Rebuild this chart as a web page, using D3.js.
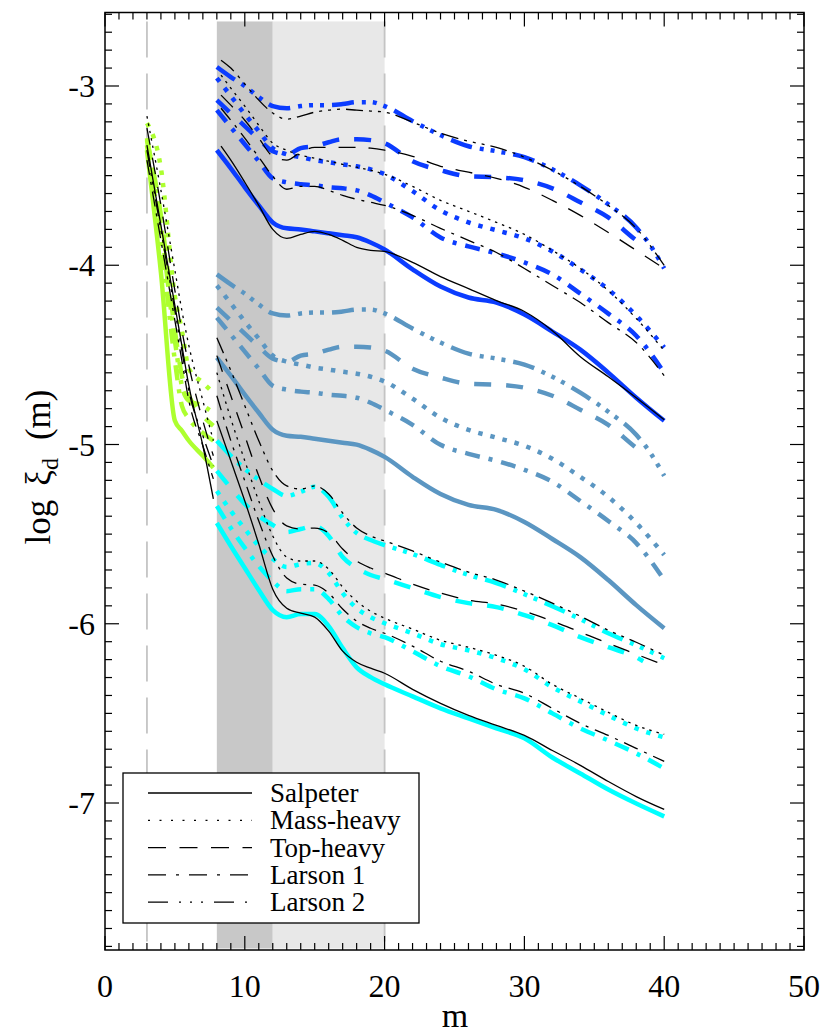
<!DOCTYPE html>
<html><head><meta charset="utf-8">
<script src="https://cdn.jsdelivr.net/npm/d3@7"></script>
<style>
body{margin:0;background:#fff}
svg{display:block}
text{font-family:"Liberation Serif","Times New Roman",serif;fill:#000}
</style>
</head><body>
<svg id="chart" width="827" height="1036"></svg>
<script>
// ---------------- data ----------------
const GRID    = [8,9,10,11,12,13,14,15,16,17,18,19,20,22,24,26,28,30,32,34,36,38,40];
const GRID_L2 = [8,9,10,11,12,13,14,15,16,17,18,19,20,22,24,26,28,30,32,34,36,38,39,40];
const GRID_TH = [8,9,10,11,12,13,14,15,16,17,18,19,20,22,24,26,28,30,32,34,36,38,38.5];
const GRID_BK = [8.3,9,10,11,12,13,14,15,16,17,18,19,20,22,24,26,28,30,32,34,36,38,40];
const GREEN_M = [3,4,5,5.5,6,7,7.75];

// blue group
const blueSalpeter = [-3.358,-3.459,-3.565,-3.666,-3.761,-3.794,-3.800,-3.811,-3.822,-3.833,-3.844,-3.873,-3.912,-4.023,-4.119,-4.180,-4.208,-4.275,-4.370,-4.471,-4.599,-4.739,-4.868];
const blueMass     = [-2.956,-3.056,-3.157,-3.252,-3.347,-3.381,-3.397,-3.414,-3.425,-3.437,-3.448,-3.465,-3.492,-3.587,-3.694,-3.761,-3.805,-3.850,-3.923,-4.023,-4.135,-4.281,-4.459];
const blueTop      = [-3.079,-3.152,-3.224,-3.297,-3.364,-3.381,-3.347,-3.336,-3.314,-3.297,-3.297,-3.302,-3.319,-3.420,-3.470,-3.504,-3.509,-3.526,-3.571,-3.649,-3.733,-3.861,-3.889];
const blueLarson1  = [-3.135,-3.230,-3.325,-3.420,-3.515,-3.537,-3.548,-3.554,-3.565,-3.571,-3.582,-3.610,-3.649,-3.733,-3.845,-3.895,-3.934,-3.984,-4.051,-4.158,-4.270,-4.393,-4.599];
const blueLarson2  = [-2.894,-2.950,-3.001,-3.062,-3.112,-3.124,-3.112,-3.107,-3.107,-3.101,-3.090,-3.090,-3.112,-3.196,-3.274,-3.336,-3.364,-3.397,-3.465,-3.554,-3.660,-3.789,-3.889,-4.018];
// black companions of the blue group
const bkBlueSalpeter = [-3.336,-3.414,-3.537,-3.666,-3.800,-3.850,-3.828,-3.811,-3.828,-3.861,-3.900,-3.917,-3.923,-3.984,-4.063,-4.130,-4.197,-4.258,-4.365,-4.510,-4.622,-4.739,-4.862];
const bkBlueMass     = [-2.939,-3.012,-3.112,-3.219,-3.319,-3.358,-3.386,-3.403,-3.420,-3.437,-3.453,-3.470,-3.492,-3.560,-3.638,-3.699,-3.761,-3.828,-3.917,-4.018,-4.141,-4.297,-4.476];
const bkBlueTop      = [-3.051,-3.107,-3.191,-3.291,-3.392,-3.414,-3.369,-3.342,-3.342,-3.342,-3.342,-3.347,-3.358,-3.392,-3.448,-3.481,-3.515,-3.565,-3.638,-3.722,-3.817,-3.917,-4.018];
const bkBlueLarson1  = [-3.124,-3.191,-3.291,-3.397,-3.504,-3.576,-3.560,-3.560,-3.582,-3.610,-3.632,-3.649,-3.666,-3.722,-3.794,-3.861,-3.929,-4.018,-4.113,-4.208,-4.320,-4.431,-4.616];
const bkBlueLarson2  = [-2.856,-2.900,-2.989,-3.079,-3.151,-3.185,-3.168,-3.146,-3.135,-3.129,-3.135,-3.140,-3.146,-3.202,-3.263,-3.308,-3.342,-3.397,-3.470,-3.560,-3.666,-3.794,-4.001];

// steel-blue group
const steelSalpeter = [-4.515,-4.616,-4.722,-4.823,-4.918,-4.951,-4.957,-4.968,-4.979,-4.990,-5.001,-5.030,-5.069,-5.180,-5.276,-5.337,-5.365,-5.432,-5.527,-5.628,-5.756,-5.896,-6.025];
const steelMass     = [-4.113,-4.213,-4.314,-4.409,-4.504,-4.538,-4.554,-4.571,-4.582,-4.594,-4.605,-4.622,-4.649,-4.744,-4.851,-4.918,-4.962,-5.007,-5.080,-5.180,-5.292,-5.438,-5.616];
const steelTop      = [-4.236,-4.309,-4.381,-4.454,-4.521,-4.538,-4.504,-4.493,-4.471,-4.454,-4.454,-4.459,-4.476,-4.577,-4.627,-4.661,-4.666,-4.683,-4.728,-4.806,-4.890,-5.018,-5.046];
const steelLarson1  = [-4.292,-4.387,-4.482,-4.577,-4.672,-4.694,-4.705,-4.711,-4.722,-4.728,-4.739,-4.767,-4.806,-4.890,-5.002,-5.052,-5.091,-5.141,-5.208,-5.315,-5.427,-5.550,-5.756];
const steelLarson2  = [-4.051,-4.107,-4.158,-4.219,-4.269,-4.281,-4.269,-4.264,-4.264,-4.258,-4.247,-4.247,-4.269,-4.353,-4.431,-4.493,-4.521,-4.554,-4.622,-4.711,-4.817,-4.946,-5.046,-5.175];

// cyan group
const cyanSalpeter = [-5.438,-5.566,-5.689,-5.812,-5.924,-5.963,-5.946,-5.946,-6.013,-6.136,-6.243,-6.298,-6.338,-6.405,-6.472,-6.528,-6.584,-6.639,-6.746,-6.835,-6.925,-7.003,-7.075];
const cyanMass     = [-5.259,-5.371,-5.471,-5.566,-5.639,-5.684,-5.667,-5.661,-5.717,-5.829,-5.913,-5.963,-5.997,-6.053,-6.114,-6.148,-6.192,-6.254,-6.354,-6.433,-6.511,-6.584,-6.634];
const cyanTop      = [-5.147,-5.242,-5.331,-5.399,-5.449,-5.488,-5.471,-5.454,-5.510,-5.628,-5.689,-5.728,-5.751,-5.801,-5.851,-5.885,-5.907,-5.952,-6.008,-6.075,-6.131,-6.187,-6.209];
const cyanLarson1  = [-5.343,-5.466,-5.577,-5.678,-5.762,-5.818,-5.807,-5.807,-5.862,-5.958,-6.019,-6.053,-6.075,-6.153,-6.237,-6.293,-6.366,-6.416,-6.500,-6.584,-6.651,-6.723,-6.807];
const cyanLarson2  = [-4.979,-5.063,-5.136,-5.197,-5.248,-5.287,-5.264,-5.236,-5.292,-5.410,-5.494,-5.533,-5.561,-5.611,-5.672,-5.728,-5.773,-5.835,-5.902,-5.974,-6.053,-6.120,-6.155,-6.192];
const bkCyanSalpeter = [-4.868,-5.091,-5.315,-5.555,-5.807,-5.913,-5.941,-5.963,-6.041,-6.153,-6.215,-6.248,-6.276,-6.366,-6.444,-6.511,-6.567,-6.623,-6.707,-6.790,-6.880,-6.964,-7.036];
const bkCyanMass     = [-4.599,-4.856,-5.091,-5.315,-5.510,-5.628,-5.650,-5.650,-5.695,-5.795,-5.874,-5.930,-5.969,-6.030,-6.092,-6.131,-6.176,-6.237,-6.338,-6.416,-6.494,-6.567,-6.617];
const bkCyanTop      = [-4.504,-4.728,-4.951,-5.175,-5.359,-5.454,-5.471,-5.466,-5.494,-5.583,-5.650,-5.689,-5.717,-5.779,-5.829,-5.868,-5.890,-5.930,-5.985,-6.047,-6.109,-6.170,-6.231];
const bkCyanLarson1  = [-4.728,-4.979,-5.203,-5.427,-5.622,-5.745,-5.779,-5.784,-5.829,-5.918,-5.985,-6.025,-6.053,-6.125,-6.209,-6.265,-6.338,-6.388,-6.472,-6.556,-6.623,-6.695,-6.768];
const bkCyanLarson2  = [-4.404,-4.588,-4.784,-4.979,-5.147,-5.231,-5.248,-5.231,-5.276,-5.382,-5.466,-5.510,-5.538,-5.594,-5.656,-5.712,-5.756,-5.818,-5.885,-5.958,-6.036,-6.103,-6.176];

// green group (m = 3 .. 8)
const greenSalpeter = [-3.358,-4.040,-4.868,-4.923,-4.979,-5.063,-5.130];
const greenMass     = [-3.207,-3.459,-4.174,-4.364,-4.577,-4.655,-4.711];
const greenTop      = [-3.302,-3.722,-4.364,-4.616,-4.728,-4.840,-4.895];
const greenLarson1  = [-3.330,-3.861,-4.532,-4.784,-4.856,-4.935,-4.979];
const greenLarson2  = [-3.291,-3.778,-4.420,-4.672,-4.756,-4.784,-4.823];
const bkGreenSalpeter = [-3.330,-3.778,-4.225,-4.448,-4.672,-5.007,-5.303];
const bkGreenMass     = [-3.168,-3.582,-4.029,-4.253,-4.448,-4.756,-4.979];
const bkGreenTop      = [-3.235,-3.666,-4.141,-4.364,-4.560,-4.868,-5.063];
const bkGreenLarson1  = [-3.414,-3.861,-4.309,-4.532,-4.756,-5.007,-5.192];
const bkGreenLarson2  = [-3.358,-3.805,-4.253,-4.476,-4.700,-4.951,-5.119];

const legendLabels = ["Salpeter","Mass-heavy","Top-heavy","Larson 1","Larson 2"];
const xTicks = [0,10,20,30,40,50];
const yTicks = [-7,-6,-5,-4,-3];
const bands = [[8,12],[12,20]];
const markerLines = [3,20];

// ---------------- styles ----------------
const COL = {blue:"#0b3cff", steel:"#5b96c2", cyan:"#00ffff", green:"#adff2f", black:"#000"};
const THICK = {Salpeter:null, Mass:"4.5,8", Top:"17,15", Larson1:"15,9,4,9", Larson2:"22,8,4,7,4,7,4,8"};
const THIN  = {Salpeter:null, Mass:"2.5,5", Top:"17,13", Larson1:"15,7,3,7", Larson2:"17,6,3,6,3,6,3,6"};
const LEG   = {Salpeter:null, Mass:"2,9.5", Top:"18,13.5", Larson1:"18,10,3,10", Larson2:"20,11,2,9,2,9,2,11"};
const STY = ["Salpeter","Mass","Top","Larson1","Larson2"];

// ---------------- layout ----------------
const svg = d3.select("#chart");
const x = d3.scaleLinear().domain([0,50]).range([105,804]);
const y = d3.scaleLinear().domain([-7.82,-2.59]).range([950,12.5]);

// shaded bands
svg.append("rect").attr("x",x(bands[0][0])).attr("y",y(-2.64)).attr("width",x(bands[0][1])-x(bands[0][0])).attr("height",y(-7.82)-y(-2.64)-1.5).attr("fill","#c8c8c8");
svg.append("rect").attr("x",x(bands[1][0])).attr("y",y(-2.64)).attr("width",x(bands[1][1])-x(bands[1][0])).attr("height",y(-7.82)-y(-2.64)-1.5).attr("fill","#e8e8e8");
markerLines.forEach(m=>{
  svg.append("line").attr("x1",x(m)).attr("x2",x(m)).attr("y1",y(-2.64)).attr("y2",y(-7.82)-2)
    .attr("stroke","#c4c4c4").attr("stroke-width",1.8).attr("stroke-dasharray","36,16");
});

const line = d3.line().x(d=>x(d[0])).y(d=>y(d[1])).curve(d3.curveMonotoneX);
function draw(ms, vs, color, width, dash){
  const pts = ms.map((m,i)=>[m,vs[i]]);
  const p = svg.append("path").attr("d",line(pts)).attr("fill","none")
    .attr("stroke",color).attr("stroke-width",width).attr("stroke-linejoin","round");
  if(dash) p.attr("stroke-dasharray",dash);
}
const groups = [
  {c:COL.steel, ms:[GRID,GRID,GRID_TH,GRID,GRID_L2], vs:[steelSalpeter,steelMass,steelTop,steelLarson1,steelLarson2]},
  {c:COL.blue,  ms:[GRID,GRID,GRID_TH,GRID,GRID_L2], vs:[blueSalpeter,blueMass,blueTop,blueLarson1,blueLarson2]},
  {c:COL.cyan,  ms:[GRID,GRID,GRID_TH,GRID,GRID_L2], vs:[cyanSalpeter,cyanMass,cyanTop,cyanLarson1,cyanLarson2]},
  {c:COL.green, ms:[GREEN_M,GREEN_M,GREEN_M,GREEN_M,GREEN_M], vs:[greenSalpeter,greenMass,greenTop,greenLarson1,greenLarson2]},
];
groups.forEach(g=>g.vs.forEach((v,i)=>draw(g.ms[i],v,g.c,4.5,THICK[STY[i]])));
const blacks = [
  {ms:GRID_BK, vs:[bkBlueSalpeter,bkBlueMass,bkBlueTop,bkBlueLarson1,bkBlueLarson2]},
  {ms:GRID,    vs:[bkCyanSalpeter,bkCyanMass,bkCyanTop,bkCyanLarson1,bkCyanLarson2]},
  {ms:GREEN_M, vs:[bkGreenSalpeter,bkGreenMass,bkGreenTop,bkGreenLarson1,bkGreenLarson2]},
];
blacks.forEach(g=>g.vs.forEach((v,i)=>draw(g.ms,v,"#000",1.3,THIN[STY[i]])));

// legend
const lg = svg.append("g");
lg.append("rect").attr("x",123).attr("y",773).attr("width",296).attr("height",150)
  .attr("fill","#fff").attr("stroke","#000").attr("stroke-width",1.3);
legendLabels.forEach((t,i)=>{
  const yy = 793 + i*27.3;
  const l = lg.append("line").attr("x1",148).attr("x2",252).attr("y1",yy).attr("y2",yy)
    .attr("stroke","#000").attr("stroke-width",1.3);
  if(LEG[STY[i]]) l.attr("stroke-dasharray",LEG[STY[i]]);
  lg.append("text").attr("x",270).attr("y",yy+9).attr("font-size",27).text(t);
});

// axes frame & ticks
const ax = svg.append("g").attr("stroke","#000").attr("stroke-width",1.2);
ax.append("rect").attr("x",105).attr("y",12.5).attr("width",699).attr("height",937.5).attr("fill","none").attr("stroke-width",1.5);
for(let m=0;m<=50;m++){
  const major = m%10===0, L = major?14:7;
  ax.append("line").attr("x1",x(m)).attr("x2",x(m)).attr("y1",950).attr("y2",950-L);
  ax.append("line").attr("x1",x(m)).attr("x2",x(m)).attr("y1",12.5).attr("y2",12.5+L);
}
for(let k=-78;k<=-26;k++){
  const v=k/10, major = k%10===0, L = major?14:7;
  ax.append("line").attr("x1",105).attr("x2",105+L).attr("y1",y(v)).attr("y2",y(v));
  ax.append("line").attr("x1",804).attr("x2",804-L).attr("y1",y(v)).attr("y2",y(v));
}
xTicks.forEach(t=>svg.append("text").attr("x",x(t)).attr("y",997).attr("text-anchor","middle").attr("font-size",32).text(t));
yTicks.forEach(t=>svg.append("text").attr("x",95).attr("y",y(t)+11).attr("text-anchor","end").attr("font-size",32).text(t));

svg.append("text").attr("x",455).attr("y",1027).attr("text-anchor","middle").attr("font-size",34).text("m");
const yl = svg.append("text").attr("transform","translate(50,467) rotate(-90)").attr("text-anchor","middle").attr("font-size",35);
yl.append("tspan").text("log");
yl.append("tspan").attr("dx",14).text("\u03BE");
yl.append("tspan").attr("font-size",24).attr("dy",8).text("d");
yl.append("tspan").attr("dx",18).attr("dy",-8).text("(m)");
</script>
</body></html>
